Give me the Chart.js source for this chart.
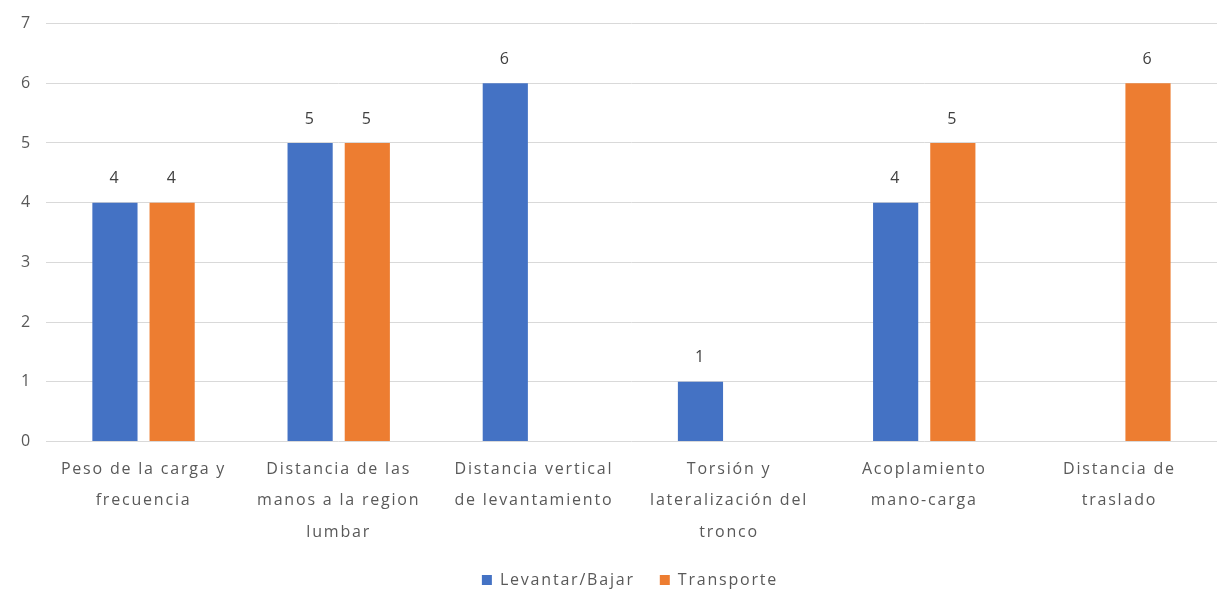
<!DOCTYPE html>
<html>
<head>
<meta charset="utf-8">
<script src="https://cdn.jsdelivr.net/npm/chart.js@4/dist/chart.umd.min.js"></script>
<style>
  html, body { margin: 0; padding: 0; background: #fff; }
  #wrap { width: 1217px; height: 591px; }
</style>
</head>
<body>
<div id="wrap"><canvas id="chart-area1"></canvas></div>
<script>
var categories = [
    ["Peso de la carga y", "frecuencia"],
    ["Distancia de las", "manos a la region", "lumbar"],
    ["Distancia vertical", "de levantamiento"],
    ["Torsión y", "lateralización del", "tronco"],
    ["Acoplamiento", "mano-carga"],
    ["Distancia de", "traslado"]
];
var levantarBajar = [4, 5, 6, 1, 4, null];
var transporte = [4, 5, null, null, 5, 6];
var seriesNames = ["Levantar/Bajar", "Transporte"];
var yTicks = [0, 1, 2, 3, 4, 5, 6, 7];

var fontName = "'Open Sans', 'Liberation Sans', sans-serif";
var spacing = '1.8px';

// wider letters, like the original
var letterSpace = {
    id: 'letterSpace',
    beforeLayout: function (chart) { chart.ctx.letterSpacing = spacing; },
    beforeDraw: function (chart) { chart.ctx.letterSpacing = spacing; }
};

// move the legend a bit (excel centres it on the plot, not the page)
var legendShift = {
    id: 'legendShift',
    afterLayout: function (chart) {
        var lg = chart.legend;
        var h = lg.bottom - lg.top;
        lg.top = 580 - lg.options.labels.padding - 8;
        lg.bottom = lg.top + h;
        lg.left += 18;
        lg.right += 18;
    }
};

// values above the bars
var valueLabels = {
    id: 'valueLabels',
    afterDatasetsDraw: function (chart) {
        var ctx = chart.ctx;
        ctx.save();
        ctx.font = '16px ' + fontName;
        ctx.fillStyle = '#404040';
        ctx.textAlign = 'center';
        ctx.textBaseline = 'middle';
        chart.data.datasets.forEach(function (ds, di) {
            var meta = chart.getDatasetMeta(di);
            meta.data.forEach(function (bar, i) {
                if (ds.data[i] == null) return;
                ctx.fillText(ds.data[i], bar.x, bar.y - 24);
            });
        });
        ctx.restore();
    }
};

var config = {
    type: 'bar',
    data: {
        labels: categories,
        datasets: [{
            label: seriesNames[0],
            data: levantarBajar,
            backgroundColor: '#4472C4'
        }, {
            label: seriesNames[1],
            data: transporte,
            backgroundColor: '#ED7D31'
        }]
    },
    options: {
        responsive: true,
        maintainAspectRatio: false,
        animation: false,
        events: [],
        datasets: {
            bar: { categoryPercentage: 0.586, barPercentage: 0.79 }
        },
        layout: { padding: { left: 7, right: 0, top: 7, bottom: -20 } },
        plugins: {
            legend: {
                position: 'bottom',
                labels: {
                    font: { family: fontName, size: 16 },
                    color: '#595959',
                    boxWidth: 10,
                    boxHeight: 10,
                    padding: 25
                }
            },
            tooltip: { enabled: false }
        },
        scales: {
            x: {
                grid: { display: false, drawTicks: false },
                border: { display: false },
                ticks: {
                    font: { family: fontName, size: 16, lineHeight: 1.97 },
                    color: '#595959',
                    maxRotation: 0,
                    autoSkip: false,
                    padding: 12
                }
            },
            y: {
                min: 0,
                max: 7,
                afterBuildTicks: function (axis) {
                    axis.ticks = yTicks.map(function (v) { return { value: v }; });
                },
                grid: { color: '#D9D9D9', drawTicks: false, lineWidth: 1 },
                border: { display: false },
                ticks: {
                    font: { family: fontName, size: 16 },
                    color: '#595959',
                    padding: 14
                }
            }
        }
    },
    plugins: [letterSpace, legendShift, valueLabels]
};

var ctx = document.getElementById('chart-area1').getContext('2d');
var myBar = new Chart(ctx, config);
</script>
</body>
</html>
